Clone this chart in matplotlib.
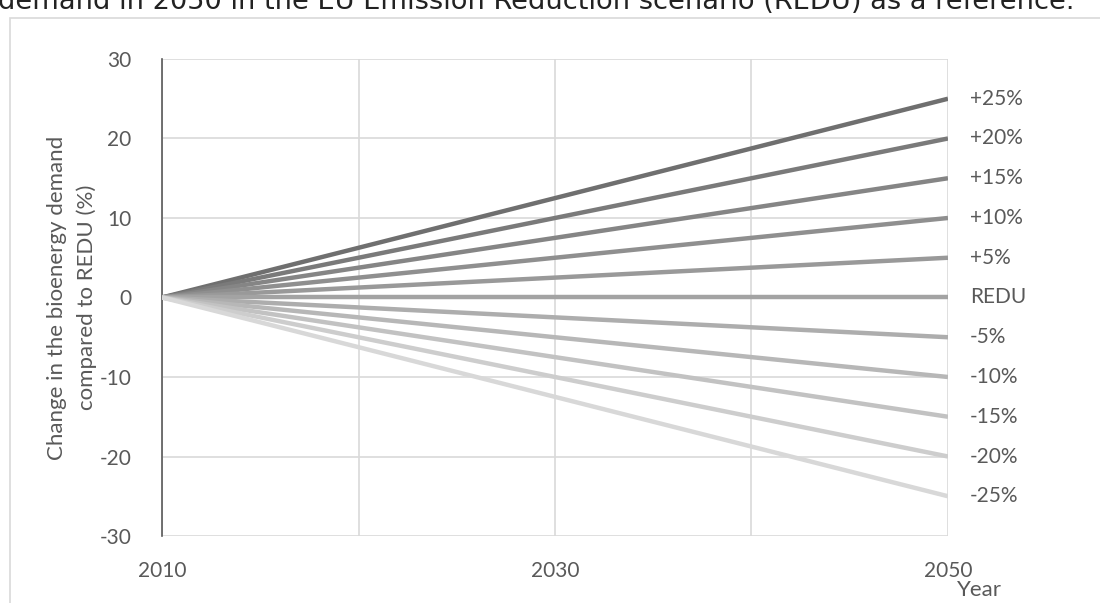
import matplotlib.pyplot as plt
from matplotlib.patches import Rectangle

# data
years = [2010, 2050]
changes = [25, 20, 15, 10, 5, 0, -5, -10, -15, -20, -25]
labels = ["+25%", "+20%", "+15%", "+10%", "+5%", "REDU",
          "-5%", "-10%", "-15%", "-20%", "-25%"]
colors = ["#6f6f6f", "#7a7a7a", "#858585", "#8f8f8f", "#999999", "#a3a3a3",
          "#adadad", "#b7b7b7", "#c2c2c2", "#cdcdcd", "#d8d8d8"]
yticks = [-30, -20, -10, 0, 10, 20, 30]
xticks = [2010, 2020, 2030, 2040, 2050]
xticklabels = ["2010", "", "2030", "", "2050"]

plt.rcParams['font.family'] = ['Lato', 'DejaVu Sans']
text_color = "#595959"

fig = plt.figure(figsize=(11, 6.03), dpi=100)
ax = fig.add_axes([0.1473, 0.1111, 0.7145, 0.7911])

# outer chart border
fig.patches.append(Rectangle((0.0091, -0.05), 1.2, 1.0202, transform=fig.transFigure,
                             fill=False, edgecolor="#d9d9d9", linewidth=1.2))

# caption from the page above, cut off at the top edge
fig.text(-0.002, 0.997, "demand in 2050 in the EU Emission Reduction scenario (REDU) as a reference.",
         fontsize=19.6, family='DejaVu Sans', color="#222222", va='center', ha='left')

for val, lab, col in zip(changes, labels, colors):
    ax.plot(years, [0, val], color=col, linewidth=3.2, solid_capstyle='butt', zorder=3)
    ax.annotate(lab, xy=(years[-1], val), xytext=(16, 0), textcoords='offset points',
                va='center', ha='left', fontsize=15, color=text_color, annotation_clip=False)

ax.set_xlim(2010, 2050)
ax.set_ylim(-30, 30)
ax.set_yticks(yticks)
ax.set_yticklabels([str(v) for v in yticks])
ax.set_xticks(xticks)
ax.set_xticklabels(xticklabels)
ax.grid(True, color="#d9d9d9", linewidth=1.2, zorder=0)
ax.set_axisbelow(True)

for side in ['top', 'right', 'bottom']:
    ax.spines[side].set_visible(False)
ax.spines['left'].set_color("#595959")
ax.spines['left'].set_linewidth(1.2)
ax.tick_params(axis='both', length=0, labelsize=15, colors=text_color)
ax.tick_params(axis='y', pad=22)
ax.tick_params(axis='x', pad=18)

ax.set_ylabel("Change in the bioenergy demand\ncompared to REDU (%)", fontsize=16,
              color=text_color, labelpad=2, linespacing=1.55)
ax.text(1.012, -0.113, "Year", transform=ax.transAxes, fontsize=16, color=text_color,
        ha='left', va='center')

plt.savefig("out.png", dpi=100)
